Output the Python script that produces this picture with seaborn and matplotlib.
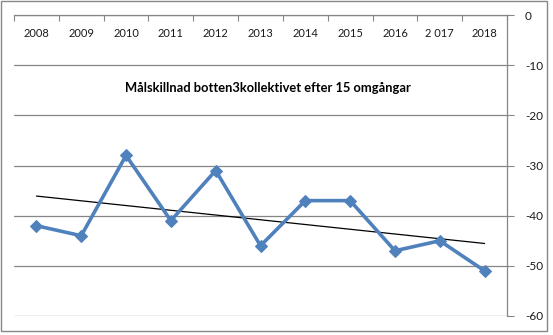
import numpy as np
import pandas as pd
import matplotlib
matplotlib.use("Agg")
import matplotlib.pyplot as plt
from matplotlib.patches import Rectangle
import seaborn as sns

years = ["2008", "2009", "2010", "2011", "2012", "2013", "2014", "2015", "2016", "2 017", "2018"]
values = [-42, -44, -28, -41, -31, -46, -37, -37, -47, -45, -51]
yticks = [0, -10, -20, -30, -40, -50, -60]
title = "Målskillnad botten3kollektivet efter 15 omgångar"

sns.set_theme(style="white")
plt.rcParams["font.family"] = ["Lato", "DejaVu Sans"]

fig = plt.figure(figsize=(5.53, 3.35), dpi=100)
ax = fig.add_axes([14 / 553, 1 - 316 / 335, (507 - 14) / 553, (316 - 15) / 335])

df = pd.DataFrame({"pos": np.arange(len(years)), "value": values})

# trendline (linear fit of the series)
coef = np.polyfit(df["pos"], df["value"], 1)
trend = pd.DataFrame({"pos": df["pos"], "value": np.polyval(coef, df["pos"])})
sns.lineplot(data=trend, x="pos", y="value", ax=ax, color="black", linewidth=0.9, zorder=3)

sns.lineplot(data=df, x="pos", y="value", ax=ax, color="#4F81BD", linewidth=2.6,
             marker="D", markersize=6.5, markeredgecolor="#4F81BD", zorder=4)

ax.set_xlim(-0.5, len(years) - 0.5)
ax.set_ylim(-60, 0)
ax.set_xlabel("")
ax.set_ylabel("")

# x-axis on top, ticks at category boundaries, labels below the line
ax.xaxis.tick_top()
ax.set_xticks(np.arange(-0.5, len(years), 1.0))
ax.set_xticklabels([])
ax.set_xticks(np.arange(len(years)), minor=True)
ax.set_xticklabels(years, minor=True)
ax.tick_params(axis="x", which="major", direction="in", length=4, width=0.8, color="#868686", top=True, bottom=False)
ax.tick_params(axis="x", which="minor", length=0, pad=-17, labelsize=8, labelcolor="#1a1a1a", top=True, bottom=False)

# y-axis on the right
ax.yaxis.tick_right()
ax.set_yticks(yticks)
ax.set_yticklabels([str(v) for v in yticks])
ax.tick_params(axis="y", direction="out", length=5, width=0.8, color="#868686", pad=8,
               labelsize=8.5, labelcolor="#1a1a1a", right=True, left=False)
for lab in ax.get_yticklabels():
    lab.set_horizontalalignment("left")

ax.grid(axis="y", color="#868686", linewidth=0.9)
ax.grid(axis="x", visible=False)
for side in ["left", "bottom"]:
    ax.spines[side].set_visible(False)
for side in ["top", "right"]:
    ax.spines[side].set_visible(True)
    ax.spines[side].set_color("#868686")
    ax.spines[side].set_linewidth(0.9)

ax.text(5.17, -14.5, title, ha="center", va="center", fontsize=9.3, fontweight="bold", color="black")

fig.patches.append(Rectangle((1 / 553, 1 - 331 / 335), 546 / 553, 330 / 335,
                             transform=fig.transFigure, fill=False, edgecolor="#888888", linewidth=1))

fig.savefig("out.png", dpi=100)
